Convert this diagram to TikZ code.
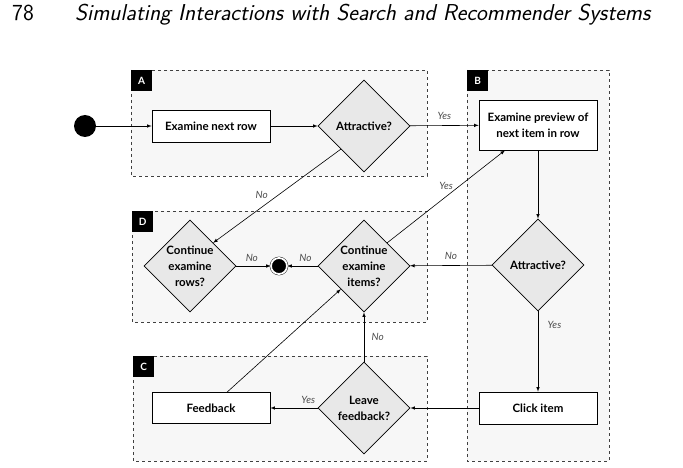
\documentclass[tikz,border=0pt]{standalone}
\usepackage{fontspec}
\usepackage{tikz}
\usetikzlibrary{shapes.geometric}
\usetikzlibrary{arrows}
\newfontfamily\diagfont{Lato}
\definecolor{regionFill}{HTML}{F7F7F7}
\definecolor{decisionFill}{HTML}{E8E8E8}
\tikzset{
region box/.style={draw=black!75, dashed, fill=regionFill, line width=0.6pt},
region label/.style={fill=black, text=white, font=\diagfont\bfseries\fontsize{10}{11}\selectfont, minimum size=21pt, inner sep=0, anchor=north west},
%
step box/.style={draw, fill=white, line width=0.6pt, minimum width=118pt, minimum height=32pt, align=center, font=\diagfont\bfseries\fontsize{11.5}{16}\selectfont},
decision node/.style={draw, shape=diamond, fill=decisionFill, line width=0.6pt, minimum width=92pt, minimum height=92pt, inner sep=0, align=center, font=\diagfont\bfseries\fontsize{11.5}{16}\selectfont},
%
flow arrow/.style={-latex, line width=0.6pt},
answer label/.style={font=\diagfont\itshape\fontsize{10}{11}\selectfont, text=black!70},
}

\begin{document}
\begin{tikzpicture}[x=1pt,y=-1pt]
        \useasboundingbox (0,0) rectangle (683,468);
        % page header
        \node[anchor=base west, inner sep=0, font=\sffamily\fontsize{23}{26}\selectfont] (pageno) at (12,21) {78};
        \node[anchor=base west, inner sep=0, font=\sffamily\itshape\fontsize{23}{26}\selectfont] (runhead) at (75,21) {Simulating Interactions with Search and Recommender Systems};
        % regions
        \draw[region box] (131,70) rectangle (427,176);
        \draw[region box] (467,70) rectangle (609,461);
        \draw[region box] (132,211) rectangle (427,322);
        \draw[region box] (133,356) rectangle (427,461);
        \node[region label] (labA) at (131,70) {A};
        \node[region label] (labB) at (467,70) {B};
        \node[region label] (labD) at (132,211) {D};
        \node[region label] (labC) at (133,356) {C};
        % nodes
        \node[circle, fill, minimum size=22pt, inner sep=0] (start) at (85,126) {};
        \node[step box] (nextrow) at (211,126) {Examine next row};
        \node[decision node] (attrA) at (364,126) {Attractive?};
        \node[step box, minimum height=50pt] (preview) at (538,125) {Examine preview of\\next item in row};
        \node[decision node] (attrB) at (538,265) {Attractive?};
        \node[step box] (click) at (538,408) {Click item};
        \node[decision node] (controws) at (190,266) {Continue\\examine\\rows?};
        \node[circle, fill, draw, double=white, double distance=1.8pt, minimum size=16pt, inner sep=0] (stop) at (279,266) {};
        \node[decision node] (contitems) at (364,266) {Continue\\examine\\items?};
        \node[decision node] (leave) at (364,408) {Leave\\feedback?};
        \node[step box, minimum height=31pt] (feedback) at (211,408) {Feedback};
        % connectors
        \draw[flow arrow] (start) -- (nextrow);
        \draw[flow arrow] (nextrow) -- (attrA);
        \draw[flow arrow] (attrA) -- node[answer label, pos=0.5, above=2pt] {Yes} (preview);
        \draw[flow arrow] (attrA.south west) -- node[answer label, pos=0.62, above=5pt] {No} (controws.north east);
        \draw[flow arrow] (preview) -- (attrB);
        \draw[flow arrow] (attrB) -- node[answer label, pos=0.5, above=2pt] {No} (contitems);
        \draw[flow arrow] (attrB) -- node[answer label, pos=0.17, right=6pt] {Yes} (click);
        \draw[flow arrow] (contitems.north east) -- node[answer label, pos=0.5, above=3pt] {Yes} ([xshift=-33pt]preview.south);
        \draw[flow arrow] (controws) -- node[answer label, pos=0.45, above=1pt] {No} (stop);
        \draw[flow arrow] (contitems) -- node[answer label, pos=0.4, above=1pt] {No} (stop);
        \draw[flow arrow] (click) -- (leave);
        \draw[flow arrow] (leave) -- node[answer label, pos=0.2, above=1pt] {Yes} (feedback);
        \draw[flow arrow] (leave) -- node[answer label, pos=0.5, right=4pt] {No} (contitems);
        \draw[flow arrow] ([xshift=16pt]feedback.north) -- (contitems.south west);
    \end{tikzpicture}
\end{document}
